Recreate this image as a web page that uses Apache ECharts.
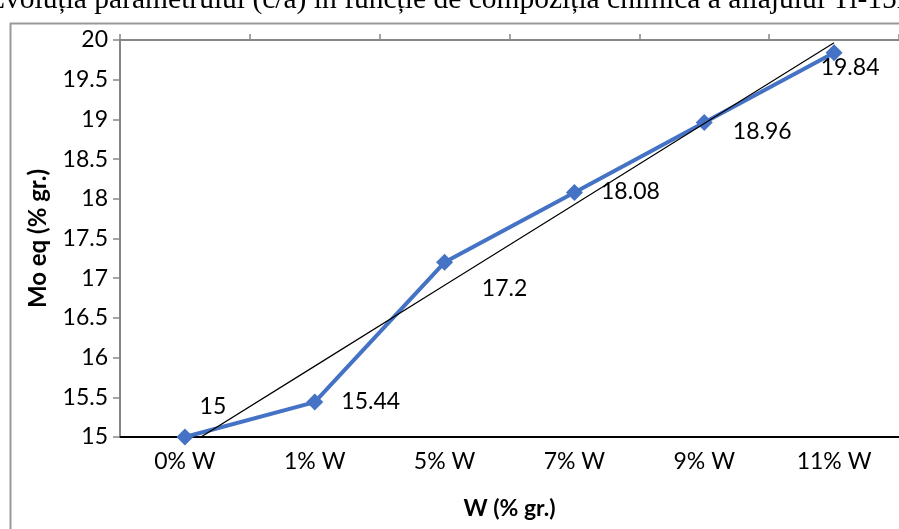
<!DOCTYPE html>
<html>
<head>
<meta charset="utf-8">
<script src="https://cdn.jsdelivr.net/npm/echarts@6/dist/echarts.min.js"></script>
<style>
html,body{margin:0;padding:0;background:#fff;}
#chart{width:899px;height:529px;}
</style>
</head>
<body>
<div id="chart"></div>
<script>
// ---- data ----
const categories = ['0% W', '1% W', '5% W', '7% W', '9% W', '11% W'];
const moEq = [15, 15.44, 17.2, 18.08, 18.96, 19.84];
const yTicks = { min: 15, max: 20, step: 0.5 };
const pageTitle = 'Evoluția parametrului (c/a) în funcție de compoziția chimică a aliajului Ti-15Mo';
const yTitle = 'Mo eq (% gr.)';
const xTitle = 'W (% gr.)';

// ---- linear trendline (least squares on category index) ----
const n = moEq.length;
const xs = moEq.map((_, i) => i + 1);
const mx = xs.reduce((a, b) => a + b, 0) / n;
const my = moEq.reduce((a, b) => a + b, 0) / n;
let sxy = 0, sxx = 0;
for (let i = 0; i < n; i++) { sxy += (xs[i] - mx) * (moEq[i] - my); sxx += (xs[i] - mx) ** 2; }
const slope = sxy / sxx, intercept = my - slope * mx;
const trend = xs.map(x => intercept + slope * x);

// label placement styling (offsets from point)
const labelOffsets = [[28, -30], [56, 0], [60, 26], [56, -1], [58, 9], [16, 15]];

const font = 'Lato, "Open Sans", sans-serif';
const chart = echarts.init(document.getElementById('chart'), null, { renderer: 'canvas' });
chart.setOption({
  animation: false,
  backgroundColor: '#fff',
  grid: { left: 120, top: 40, width: 788, height: 397, containLabel: false },
  graphic: [
    { type: 'text', left: -13, top: -15, style: { text: pageTitle, font: '29.5px "Liberation Serif", "Times New Roman", serif', fill: '#000' } },
    { type: 'line', shape: { x1: 10.5, y1: 23, x2: 10.5, y2: 529 }, style: { stroke: '#999', lineWidth: 2 } },
    { type: 'line', shape: { x1: 10, y1: 23.5, x2: 899, y2: 23.5 }, style: { stroke: '#999', lineWidth: 2 } }
  ],
  xAxis: [
    {
      type: 'category', data: categories, position: 'bottom', boundaryGap: true,
      axisLine: { lineStyle: { color: '#000', width: 2 } },
      axisTick: { show: false },
      axisLabel: { color: '#000', fontFamily: font, fontSize: 23, margin: 13 },
      name: xTitle, nameLocation: 'middle', nameGap: 60,
      nameTextStyle: { color: '#000', fontFamily: font, fontSize: 23, fontWeight: 'bold' }
    },
    {
      type: 'category', data: categories, position: 'top', boundaryGap: true,
      axisLine: { lineStyle: { color: '#868686', width: 2 } },
      axisTick: { show: true, inside: false, length: 6, lineStyle: { color: '#868686', width: 1.5 } },
      axisLabel: { show: false }
    }
  ],
  yAxis: {
    type: 'value', min: yTicks.min, max: yTicks.max, interval: yTicks.step,
    axisLine: { show: true, lineStyle: { color: '#868686', width: 2 } },
    axisTick: { show: true, length: 7, lineStyle: { color: '#868686', width: 1.5 } },
    splitLine: { show: false },
    axisLabel: { color: '#000', fontFamily: font, fontSize: 23, margin: 12 },
    name: yTitle, nameLocation: 'middle', nameGap: 70, nameRotate: 90,
    nameTextStyle: { color: '#000', fontFamily: font, fontSize: 24, fontWeight: 'bold' }
  },
  series: [
    {
      type: 'line', data: moEq.map((v, i) => ({
        value: v,
        label: { offset: labelOffsets[i] }
      })),
      symbol: 'diamond', symbolSize: 17,
      lineStyle: { color: '#4472C4', width: 4 },
      itemStyle: { color: '#4472C4' },
      label: {
        show: true, position: 'inside', align: 'center', verticalAlign: 'middle',
        color: '#000', fontFamily: font, fontSize: 23
      },
      clip: false, z: 2
    },
    {
      type: 'line', data: trend, symbol: 'none', silent: true,
      lineStyle: { color: '#000', width: 1.2 }, clip: true, z: 3
    }
  ]
});
</script>
</body>
</html>
